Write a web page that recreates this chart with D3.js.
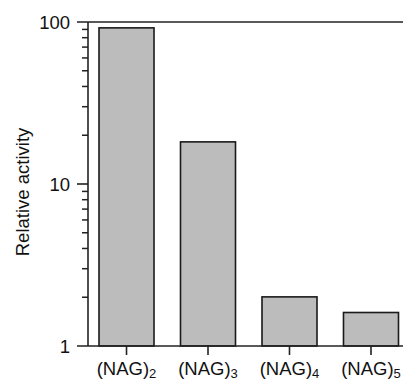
<!DOCTYPE html>
<html>
<head>
<meta charset="utf-8">
<script src="https://cdn.jsdelivr.net/npm/d3@7"></script>
<style>
  body { margin: 0; background: #fff; }
  text { font-family: "Liberation Sans", Arial, Helvetica, sans-serif; fill: #111; }
</style>
</head>
<body>
<div id="root"></div>
<script>
const width = 403;
const height = 381;

// data
const substrates = ['2', '3', '4', '5'];   // (NAG)n subscripts
const activity = [92, 18.2, 2.01, 1.61];
const yTicks = [1, 10, 100];

const margin = {left: 88, top: 22, bottom: 35};

const x = d3.scaleBand()
    .domain(substrates)
    .range([margin.left, 409.5])
    .paddingInner(0.325)
    .paddingOuter(0.135);

const y = d3.scaleLog()
    .domain([1, 100])
    .range([height - margin.bottom, margin.top]);

const svg = d3.select('#root')
    .append('svg')
    .attr('width', width)
    .attr('height', height);

// bars
svg.selectAll('rect.bar')
    .data(activity)
    .join('rect')
    .attr('class', 'bar')
    .attr('x', (d, i) => x(substrates[i]))
    .attr('width', x.bandwidth())
    .attr('y', d => y(d))
    .attr('height', d => y(1) - y(d))
    .attr('fill', '#bcbcbc')
    .attr('stroke', '#1a1a1a')
    .attr('stroke-width', 1.6);

// y axis with minor ticks
const minor = [];
for (let dec = 1; dec < 100; dec *= 10) {
    for (let k = 2; k <= 9; k++) minor.push(k * dec);
}
const yAxis = svg.append('g')
    .attr('transform', `translate(${margin.left},0)`);
yAxis.append('line')
    .attr('y1', y(1)).attr('y2', y(100))
    .attr('stroke', '#222').attr('stroke-width', 1.6);
yAxis.selectAll('line.minor')
    .data(minor)
    .join('line')
    .attr('class', 'minor')
    .attr('x1', -6).attr('x2', 0)
    .attr('y1', d => y(d)).attr('y2', d => y(d))
    .attr('stroke', '#222').attr('stroke-width', 1.5);
yAxis.selectAll('text')
    .data(yTicks)
    .join('text')
    .attr('x', -18)
    .attr('y', d => y(d))
    .attr('dy', '0.36em')
    .attr('text-anchor', 'end')
    .style('font-size', '18.5px')
    .text(d => d);

// top frame line and bottom axis line (include major tick stubs)
svg.append('line')
    .attr('x1', margin.left - 11).attr('x2', width)
    .attr('y1', y(100)).attr('y2', y(100))
    .attr('stroke', '#222').attr('stroke-width', 1.6);
svg.append('line')
    .attr('x1', margin.left - 11).attr('x2', width)
    .attr('y1', y(1)).attr('y2', y(1))
    .attr('stroke', '#222').attr('stroke-width', 1.6);
svg.append('line')
    .attr('x1', margin.left - 11).attr('x2', margin.left)
    .attr('y1', y(10)).attr('y2', y(10))
    .attr('stroke', '#222').attr('stroke-width', 1.6);

// x ticks and labels
const xg = svg.selectAll('g.xt')
    .data(substrates)
    .join('g')
    .attr('class', 'xt')
    .attr('transform', d => `translate(${x(d) + x.bandwidth() / 2},${y(1)})`);
xg.append('line')
    .attr('y1', 0).attr('y2', 9)
    .attr('stroke', '#222').attr('stroke-width', 1.6);
const lbl = xg.append('text')
    .attr('y', 29)
    .attr('text-anchor', 'middle')
    .style('font-size', '18.5px');
lbl.append('tspan').text('(NAG)');
lbl.append('tspan')
    .attr('dy', 3)
    .style('font-size', '13px')
    .text(d => d);

// y label
svg.append('text')
    .attr('transform', `translate(29,${(y(1) + y(100)) / 2 + 8}) rotate(-90)`)
    .attr('text-anchor', 'middle')
    .style('font-size', '18.5px')
    .text('Relative activity');
</script>
</body>
</html>
